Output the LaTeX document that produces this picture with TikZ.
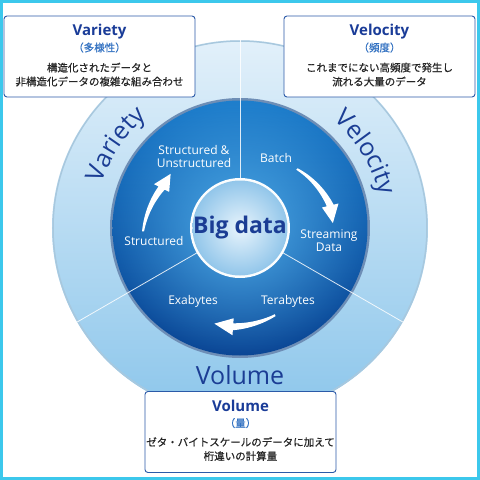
\documentclass[tikz,border=0pt]{standalone}
\usepackage{fontspec}
\setmainfont{Open Sans}
\newfontfamily\jpfont[FakeBold=0.6]{Noto Sans CJK JP}
\usetikzlibrary{decorations.text,fadings}

\definecolor{framecyan}{HTML}{3CC8EC}
\definecolor{boxblue}{HTML}{2B5AA8}
\definecolor{titleblue}{HTML}{1A3C98}
\definecolor{parenblue}{HTML}{3372C2}
\definecolor{labelblue}{HTML}{1B3D94}
\definecolor{ringtop}{HTML}{E2F0FA}
\definecolor{ringbot}{HTML}{8CC6EB}
\definecolor{ringrim}{HTML}{A8C8DE}
\definecolor{coretop}{HTML}{1E7ECC}
\definecolor{corebot}{HTML}{0A4594}
\definecolor{coreglow}{HTML}{55B2EC}
\definecolor{corerim}{HTML}{6E8EB6}
\definecolor{hubin}{HTML}{E8F4FC}
\definecolor{hubout}{HTML}{92C6EA}

\tikzfading[name=glowfade, inner color=transparent!10, outer color=transparent!100]

\newcommand{\ringfont}{\fontsize{25pt}{25pt}\selectfont}
% tapered white arrow on an arc: start angle, head angle, start radius, head radius
\newcommand{\whitearrow}[4]{%
  \fill[white] plot[domain=#1:#2, samples=25]
      (\x:{#3+(#4-#3)*(\x-(#1))/(#2-(#1))+1+2.5*(\x-(#1))/(#2-(#1))})
    -- (#2:#4+8.5) -- ({#2-11}:#4) -- (#2:#4-8.5)
    -- plot[domain=#2:#1, samples=25]
      (\x:{#3+(#4-#3)*(\x-(#1))/(#2-(#1))-1-2.5*(\x-(#1))/(#2-(#1))}) -- cycle;}

\begin{document}
\begin{tikzpicture}[x=1pt,y=1pt]
  \tikzstyle{infobox}=[draw=boxblue,line width=0.9pt,rounded corners=3pt,fill=white,minimum width=191pt,minimum height=81pt]
  \tikzstyle{boxtitle}=[inner sep=0pt,text=titleblue,font=\fontsize{15pt}{15pt}\selectfont\bfseries]
  \tikzstyle{boxparen}=[inner sep=0pt,text=parenblue,font=\jpfont\fontsize{10.5pt}{10.5pt}\selectfont]
  \tikzstyle{boxtext}=[inner sep=0pt,text=black!85,font=\jpfont\fontsize{10.5pt}{10.5pt}\selectfont]
  \tikzstyle{inlabel}=[inner sep=0pt,text=white,align=center,font=\fontsize{12pt}{13pt}\selectfont]
  \tikzstyle{divider}=[draw=white,line width=0.8pt,opacity=0.85]
  \useasboundingbox (-240,-252) rectangle (240,228);
  \fill[white] (-240,-252) rectangle (240,228);

  % rings
  \shade[top color=ringtop,bottom color=ringbot] (0,0) circle (188);
  \draw[ringrim,line width=1.5pt] (0,0) circle (187);
  \fill[corerim] (0,0) circle (130);
  \shade[top color=coretop,bottom color=corebot] (0,0) circle (127.5);
  \fill[coreglow,path fading=glowfade] (0,0) circle (127.5);

  % dividers
  \draw[divider] (90:48) -- (90:188);
  \draw[divider] (210:48) -- (210:188);
  \draw[divider] (330:48) -- (330:188);

  % hub
  \fill[white!85!hubin] (0,0) circle (50);
  \shade[inner color=hubin,outer color=hubout] (0,0) circle (47.5);
  \node[inner sep=0pt,text=labelblue,font=\fontsize{23pt}{23pt}\selectfont\bfseries] (bd) at (0,0) {Big data};

  % ring labels
  \path[decorate,decoration={text along path,text align=center,text color=labelblue,text={|\ringfont|Variety}}]
    (194:145) arc[start angle=194,end angle=98,radius=145];
  \path[decorate,decoration={text along path,text align=center,text color=labelblue,text={|\ringfont|Velocity}}]
    (80:143) arc[start angle=80,end angle=-18,radius=143];
  \node[inner sep=0pt,text=labelblue,font=\ringfont] (vol) at (0,-147) {Volume};

  % inner labels
  \node[inlabel] (su) at (-46,72) {Structured \&\\Unstructured};
  \node[inlabel] (batch) at (36,70) {Batch};
  \node[inlabel] (stream) at (89,-13) {Streaming\\Data};
  \node[inlabel] (struct) at (-86,-13) {Structured};
  \node[inlabel] (exa) at (-47,-73) {Exabytes};
  \node[inlabel] (tera) at (48,-73) {Terabytes};

  % cycle arrows
  \whitearrow{182}{153}{97}{88}
  \whitearrow{46}{14}{82}{93}
  \whitearrow{-68}{-94}{94}{99}

  % info boxes
  \node[infobox] (varbox) at (-140.5,171.5) {};
  \node[boxtitle] (vartitle) at ([yshift=-16]varbox.north) {Variety};
  \node[boxparen] (varparen) at ([yshift=-32]varbox.north) {（多様性）};
  \node[boxtext] (vartexta) at ([yshift=-52]varbox.north) {構造化されたデータと};
  \node[boxtext] (vartextb) at ([yshift=-66]varbox.north) {非構造化データの複雑な組み合わせ};

  \node[infobox] (velbox) at (139.5,171.5) {};
  \node[boxtitle] (veltitle) at ([yshift=-16]velbox.north) {Velocity};
  \node[boxparen] (velparen) at ([yshift=-32]velbox.north) {（頻度）};
  \node[boxtext] (veltexta) at ([yshift=-52]velbox.north) {これまでにない高頻度で発生し};
  \node[boxtext] (veltextb) at ([yshift=-66]velbox.north) {流れる大量のデータ};

  \node[infobox] (volbox) at (0.5,-204) {};
  \node[boxtitle] (voltitle) at ([yshift=-15]volbox.north) {Volume};
  \node[boxparen] (volparen) at ([yshift=-32]volbox.north) {（量）};
  \node[boxtext] (voltexta) at ([yshift=-51]volbox.north) {ゼタ・バイトスケールのデータに加えて};
  \node[boxtext] (voltextb) at ([yshift=-65]volbox.north) {桁違いの計算量};

  % frame
  \draw[framecyan,line width=3pt] (-238.5,-250.5) rectangle (238.5,226.5);
\end{tikzpicture}
\end{document}
